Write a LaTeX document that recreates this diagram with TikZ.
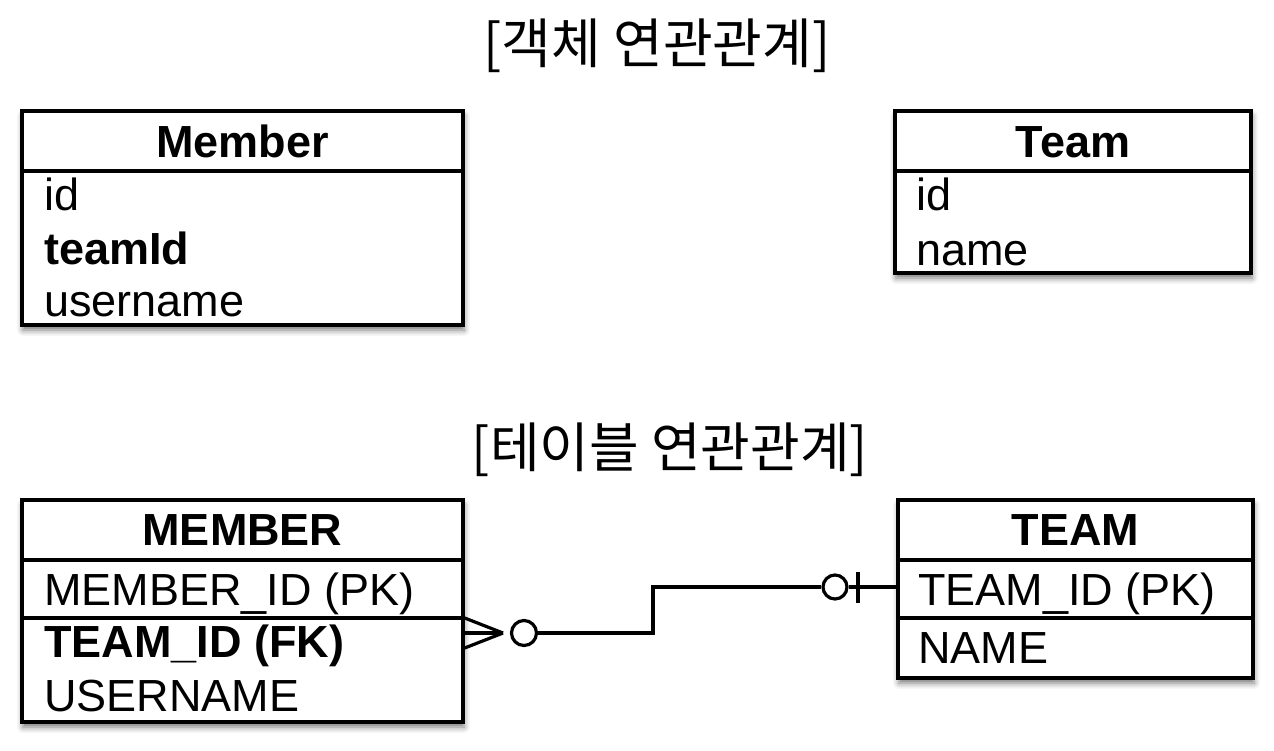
\documentclass[tikz,border=0pt]{standalone}
\usepackage{fontspec}
\setmainfont{Liberation Sans}
\newfontfamily\kofont{Noto Sans CJK KR}
\usetikzlibrary{shadows.blur}
\tikzset{
  tbl/.style={draw, line width=3.4pt, fill=white, inner sep=0pt,
    blur shadow={shadow xshift=1pt, shadow yshift=-5pt, shadow blur radius=6pt, shadow opacity=55}},
  hdr/.style={font=\fontsize{45}{50}\selectfont\bfseries, inner sep=0pt, anchor=base},
  fld/.style={font=\fontsize{45}{50}\selectfont, inner sep=0pt, anchor=base west},
  bfld/.style={fld, font=\fontsize{45}{50}\selectfont\bfseries},
  ttl/.style={font=\kofont\fontsize{54}{60}\selectfont, inner sep=0pt},
  sep/.style={line width=3.4pt},
  conn/.style={line width=3.2pt},
}
\begin{document}
\begin{tikzpicture}[x=1pt,y=-1pt]
\useasboundingbox (0,0) rectangle (1274,750);
% titles
\node[ttl] (t1) at (657,46) {[객체 연관관계]};
\node[ttl] (t2) at (670,450) {[테이블 연관관계]};
% Member object
\node[tbl, minimum width=441pt, minimum height=214pt] (mo) at (242.5,218) {};
\draw[sep] (22,171) -- (463,171);
\node[hdr] (moh) at (242.5,157) {Member};
\node[fld] (mo1) at (44,210) {id};
\node[bfld] (mo2) at (44,264) {teamId};
\node[fld] (mo3) at (44,316) {username};
% Team object
\node[tbl, minimum width=356pt, minimum height=162pt] (to) at (1073,192) {};
\draw[sep] (895,171) -- (1251,171);
\node[hdr] (toh) at (1073,157) {Team};
\node[fld] (to1) at (916,210) {id};
\node[fld] (to2) at (916,265) {name};
% MEMBER table
\node[tbl, minimum width=441pt, minimum height=222pt] (mt) at (242.5,611) {};
\draw[sep] (22,560) -- (463,560);
\draw[sep] (22,618) -- (463,618);
\node[hdr] (mth) at (242.5,545) {MEMBER};
\node[fld] (mt1) at (44,605) {MEMBER\_ID (PK)};
\node[bfld] (mt2) at (44,657) {TEAM\_ID (FK)};
\node[fld] (mt3) at (44,711) {USERNAME};
% TEAM table
\node[tbl, minimum width=355pt, minimum height=178pt] (tt) at (1075.5,589) {};
\draw[sep] (898,560) -- (1253,560);
\draw[sep] (898,618) -- (1253,618);
\node[hdr] (tth) at (1075.5,545) {TEAM};
\node[fld] (tt1) at (918,605) {TEAM\_ID (PK)};
\node[fld] (tt2) at (918,663) {NAME};
% connector
\coordinate (a) at (mt.east |- 0,633);
\coordinate (tip) at (503,633);
\node[draw, conn, circle, minimum size=25pt, inner sep=0pt] (c1) at (524,633) {};
\node[draw, conn, circle, minimum size=24pt, inner sep=0pt] (c2) at (835,587) {};
\coordinate (b) at (tt.west |- 0,587);
\draw[conn] (tip) -- ($(a)+(0,-15)$);
\draw[conn] (tip) -- (a);
\draw[conn] (tip) -- ($(a)+(0,15)$);
\draw[conn] (c1.east) -- (653,633) -- (653,587) -- (c2.west);
\draw[conn] (c2.east) -- (b);
\draw[conn] (858,572) -- (858,603);
\end{tikzpicture}
\end{document}
